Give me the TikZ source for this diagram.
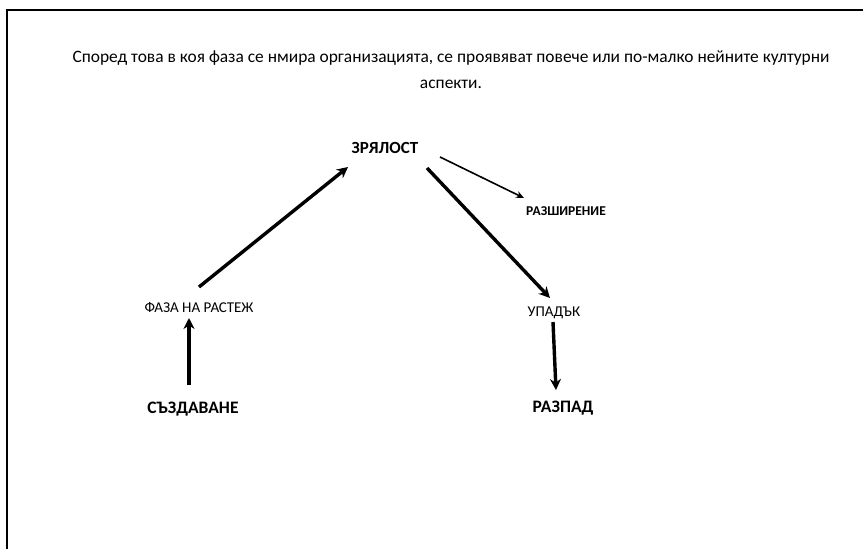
\documentclass[tikz,border=0pt]{standalone}
\usepackage{fontspec}
\setmainfont{Carlito}
\usetikzlibrary{arrows.meta}
\begin{document}
\begin{tikzpicture}[x=1pt,y=-1pt,
  lbl/.style={inner sep=1pt, font=\fontsize{15}{18}\selectfont},
  bigbold/.style={inner sep=1pt, font=\fontsize{17.5}{20}\selectfont\bfseries},
  thickarrow/.style={line width=3.4pt, -{Stealth[length=11pt,width=11pt]}},
  thinarrow/.style={line width=1.6pt, -{Stealth[length=8pt,width=7pt]}}]
\useasboundingbox (0,0) rectangle (863,549);
% page frame
\draw[line width=2pt] (7,549) -- (7,9.5) -- (863,9.5);
% heading
\node[font=\fontsize{17.4}{26}\selectfont, align=center, inner sep=0pt] (title) at (451,70)
  {Според това в коя фаза се нмира организацията, се проявяват повече или по-малко нейните културни\\аспекти.};
% stages
\node[bigbold, font=\fontsize{17}{20}\selectfont\bfseries] (zr) at (385,148) {ЗРЯЛОСТ};
\node[inner sep=1pt, font=\fontsize{13.5}{16}\selectfont\bfseries] (raz) at (566,211) {РАЗШИРЕНИЕ};
\node[lbl] (faza) at (199,308) {ФАЗА НА РАСТЕЖ};
\node[bigbold] (sz) at (193,409) {СЪЗДАВАНЕ};
\node[lbl] (up) at (554,313) {УПАДЪК};
\node[bigbold] (rp) at (563,408) {РАЗПАД};
% transitions
\coordinate (a1) at (199,287);
\coordinate (a2) at (348,167);
\draw[thickarrow] (a1) -- (a2);
\coordinate (b1) at (189,385);
\coordinate (b2) at (189,318);
\draw[thickarrow] (b1) -- (b2);
\coordinate (c1) at (440,157);
\coordinate (c2) at (524,198);
\draw[thinarrow] (c1) -- (c2);
\coordinate (d1) at (427,168);
\coordinate (d2) at (550,298);
\draw[thickarrow] (d1) -- (d2);
\coordinate (e1) at (553,322);
\coordinate (e2) at (556,390);
\draw[thickarrow] (e1) -- (e2);
\end{tikzpicture}
\end{document}
